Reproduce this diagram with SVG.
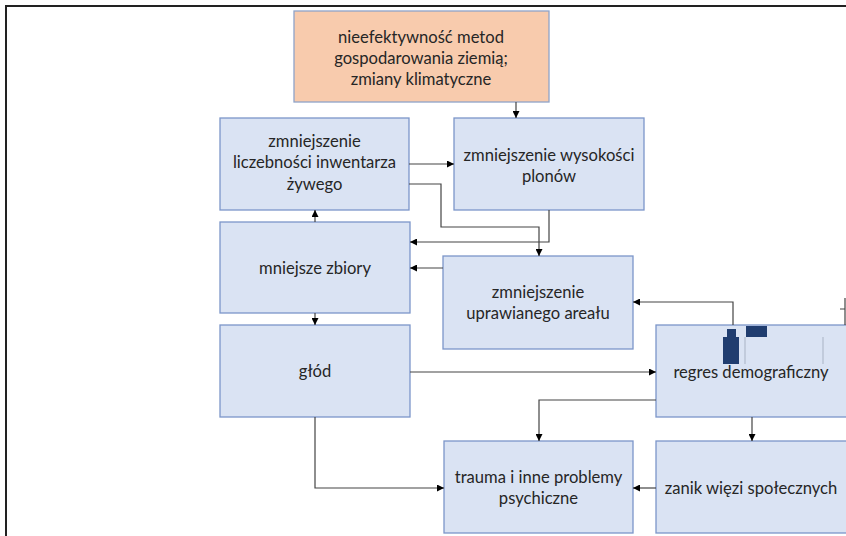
<svg xmlns="http://www.w3.org/2000/svg" width="846" height="536" viewBox="0 0 846 536">
<defs>
<marker id="arr" viewBox="0 0 10 10" refX="10" refY="5" markerWidth="7" markerHeight="7" markerUnits="userSpaceOnUse" orient="auto">
<path d="M0,0 L10,5 L0,10 z" fill="#000"/>
</marker>
<style>
.box{fill:#DAE3F3;stroke:#7C96C9;stroke-width:1.3}
.top{fill:#F8CBAD;stroke:#8FA3C8;stroke-width:1.3}
.t{font-family:Lato,"Liberation Sans",sans-serif;font-size:16.6px;fill:#262626;text-anchor:middle}
.c{fill:none;stroke:#444;stroke-width:1.2;marker-end:url(#arr)}
.c0{fill:none;stroke:#444;stroke-width:1.2}
.art{fill:#203D6F}
</style>
</defs>
<rect width="846" height="536" fill="#fff"/>
<path d="M6,536 V6 H846" fill="none" stroke="#222" stroke-width="2"/>

<g id="n-top">
<rect class="top" x="294" y="11" width="255" height="91"/>
<text class="t" x="421" y="43">nieefektywność metod</text>
<text class="t" x="421" y="64">gospodarowania ziemią;</text>
<text class="t" x="421" y="85">zmiany klimatyczne</text>
</g>
<g id="n-inwentarz">
<rect class="box" x="220" y="118" width="189" height="92"/>
<text class="t" x="314.5" y="147">zmniejszenie</text>
<text class="t" x="314.5" y="168">liczebności inwentarza</text>
<text class="t" x="314.5" y="190">żywego</text>
</g>
<g id="n-plony">
<rect class="box" x="454" y="118" width="190" height="92"/>
<text class="t" x="549" y="161">zmniejszenie wysokości</text>
<text class="t" x="549" y="182">plonów</text>
</g>
<g id="n-zbiory">
<rect class="box" x="220" y="222" width="190" height="91"/>
<text class="t" x="315" y="274">mniejsze zbiory</text>
</g>
<g id="n-areal">
<rect class="box" x="443" y="256" width="190" height="93"/>
<text class="t" x="538" y="298">zmniejszenie</text>
<text class="t" x="538" y="319">uprawianego areału</text>
</g>
<g id="n-glod">
<rect class="box" x="220" y="325" width="190" height="92"/>
<text class="t" x="315" y="377">głód</text>
</g>
<g id="n-regres">
<rect class="box" x="656" y="325" width="195" height="92"/>
<rect class="art" x="723" y="337" width="16" height="27"/>
<rect class="art" x="727" y="329" width="9" height="9"/>
<rect class="art" x="746" y="326" width="21" height="11"/>
<path d="M745,337 V364 M823,337 V364" stroke="#A9B3C4" stroke-width="1"/>
<text class="t" x="751" y="378">regres demograficzny</text>
</g>
<g id="n-trauma">
<rect class="box" x="444" y="441" width="189" height="92"/>
<text class="t" x="538.5" y="483">trauma i inne problemy</text>
<text class="t" x="538.5" y="504">psychiczne</text>
</g>
<g id="n-zanik">
<rect class="box" x="656" y="441" width="195" height="92"/>
<text class="t" x="751" y="494">zanik więzi społecznych</text>
</g>

<g id="connectors">
<path class="c" d="M516,102 V118"/>
<path class="c" d="M409,164 H454"/>
<path class="c" d="M409,184 H441 V227 H539 V256"/>
<path class="c" d="M549,210 V242 H410"/>
<path class="c" d="M443,268 H410"/>
<path class="c" d="M315,222 V210"/>
<path class="c" d="M315,313 V325"/>
<path class="c" d="M410,372 H656"/>
<path class="c" d="M315,417 V488 H444"/>
<path class="c" d="M656,400 H539 V441"/>
<path class="c" d="M752,417 V441"/>
<path class="c" d="M656,488 H633"/>
<path class="c" d="M733,325 V302 H633"/>
<path class="c0" d="M845,298 V325 M840,309 H845" stroke="#7C96C9"/>
</g>
</svg>
